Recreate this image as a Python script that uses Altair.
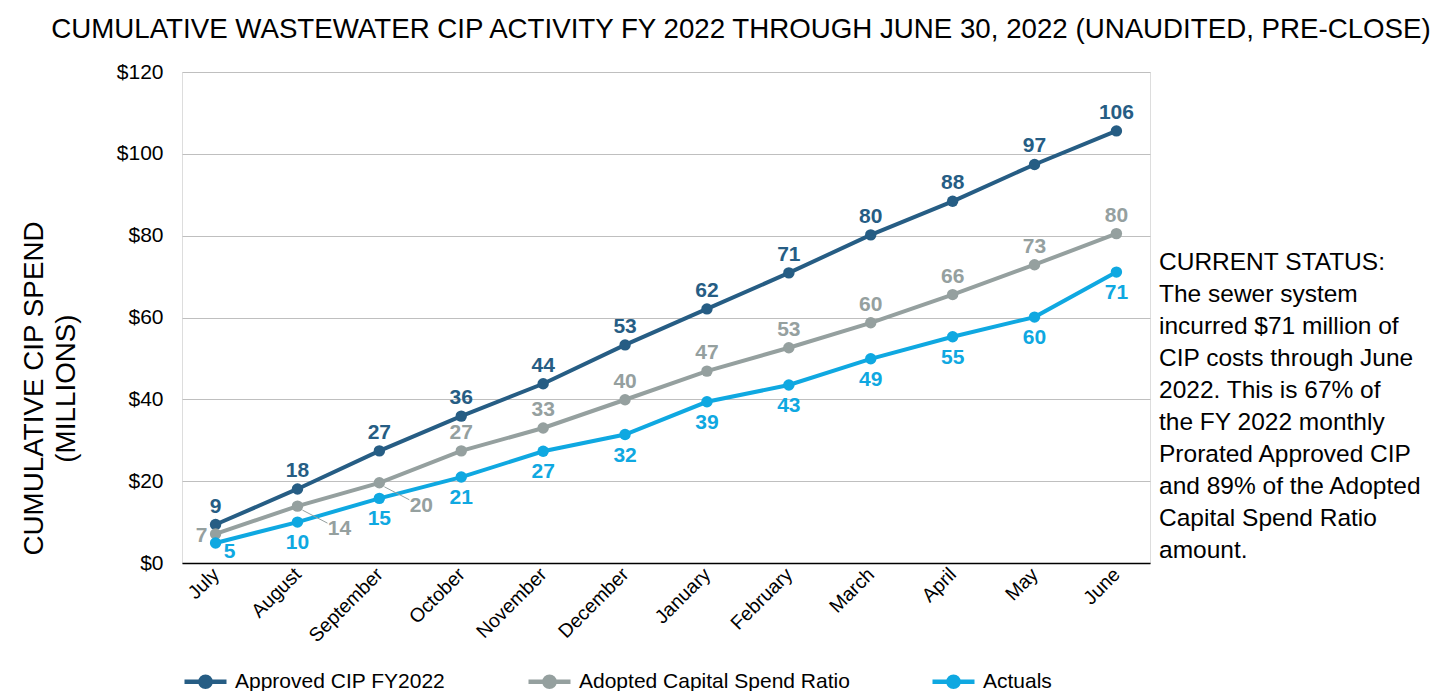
import altair as alt
import pandas as pd

months = ["July", "August", "September", "October", "November", "December",
          "January", "February", "March", "April", "May", "June"]
approved = [9.4, 18.1, 27.4, 35.9, 43.8, 53.3, 62.1, 70.9, 80.2, 88.4, 97.4, 105.6]
adopted = [7.1, 13.9, 19.6, 27.4, 33.0, 39.9, 46.9, 52.6, 58.7, 65.6, 72.9, 80.5]
actuals = [4.9, 10.0, 15.8, 21.0, 27.3, 31.4, 39.4, 43.5, 49.9, 55.3, 60.1, 71.1]
approved_lbl = [9, 18, 27, 36, 44, 53, 62, 71, 80, 88, 97, 106]
adopted_lbl = [7, 14, 20, 27, 33, 40, 47, 53, 60, 66, 73, 80]
actuals_lbl = [5, 10, 15, 21, 27, 32, 39, 43, 49, 55, 60, 71]

series_names = ["Approved CIP FY2022", "Adopted Capital Spend Ratio", "Actuals"]
colors = ["#265d84", "#95a09f", "#0fa8e1"]

title_text = "CUMULATIVE WASTEWATER CIP ACTIVITY FY 2022 THROUGH JUNE 30, 2022 (UNAUDITED, PRE-CLOSE)"
status_lines = ["CURRENT STATUS:", "The sewer system", "incurred $71 million of",
                "CIP costs through June", "2022. This is 67% of", "the FY 2022 monthly",
                "Prorated Approved CIP", "and 89% of the Adopted", "Capital Spend Ratio",
                "amount."]

rows = []
for name, vals, lbls in zip(series_names, [approved, adopted, actuals],
                            [approved_lbl, adopted_lbl, actuals_lbl]):
    for m, v, l in zip(months, vals, lbls):
        rows.append({"month": m, "series": name, "value": v, "label": str(l)})
df = pd.DataFrame(rows)

FONT = "Liberation Sans"
W, H = 968, 491

x = alt.X("month:N", sort=months,
          scale=alt.Scale(type="point", padding=0.41),
          axis=alt.Axis(title=None, labelAngle=-45, labelAlign="right",
                        labelBaseline="middle", labelFontSize=19.5, labelColor="#000",
                        labelFont=FONT, ticks=False, domainColor="#000",
                        domainWidth=1.5, labelPadding=8, grid=False))
y = alt.Y("value:Q", scale=alt.Scale(domain=[0, 120]),
          axis=alt.Axis(title=["CUMULATIVE CIP SPEND", "(MILLIONS)"], titleFontSize=27.8,
                        titleFont=FONT, titleFontWeight="normal", titleColor="#000",
                        titlePadding=36, titleLineHeight=32, titleY=316, titleAlign="center",
                        values=[0, 20, 40, 60, 80, 100, 120], format="$.0f",
                        labelFontSize=21, labelFont=FONT, labelColor="#000",
                        labelPadding=19, ticks=False, domain=False,
                        gridColor="#bfbfbf", gridWidth=1.2))
color = alt.Color("series:N", sort=series_names,
                  scale=alt.Scale(domain=series_names, range=colors),
                  legend=alt.Legend(title=None, orient="bottom", direction="horizontal",
                                    labelFontSize=21, labelFont=FONT, labelColor="#000",
                                    labelLimit=500,
                                    symbolType="M-1,0L1,0M-0.24,0a0.24,0.24 0 1,0 0.48,0a0.24,0.24 0 1,0 -0.48,0Z",
                                    symbolSize=1764, symbolStrokeWidth=4.5,
                                    columnPadding=73, offset=12, padding=0,
                                    labelOffset=6))

base = alt.Chart(df)
lines = base.mark_line(strokeWidth=4).encode(x=x, y=y, color=color)
points = base.mark_point(filled=True, size=130, opacity=1).encode(x=x, y=y, color=color)

lbl_common = dict(fontSize=21, font=FONT, fontWeight="bold")
tcolor = alt.Color("series:N", scale=alt.Scale(domain=series_names, range=colors), legend=None)

top_labels = base.mark_text(dy=-18, **lbl_common).encode(
    x=x, y=y, text="label:N", color=tcolor
).transform_filter(
    (alt.datum.series == series_names[0]) |
    ((alt.datum.series == series_names[1]) &
     (alt.datum.month != "July") & (alt.datum.month != "August") & (alt.datum.month != "September"))
)
bottom_labels = base.mark_text(dy=21, **lbl_common).encode(
    x=x, y=y, text="label:N", color=tcolor
).transform_filter(
    (alt.datum.series == series_names[2]) & (alt.datum.month != "July")
)
july_actual = base.mark_text(dx=14, dy=9, **lbl_common).encode(
    x=x, y=y, text="label:N", color=tcolor
).transform_filter((alt.datum.series == series_names[2]) & (alt.datum.month == "July"))
july_adopted = base.mark_text(dx=-14, dy=2, **lbl_common).encode(
    x=x, y=y, text="label:N", color=tcolor
).transform_filter((alt.datum.series == series_names[1]) & (alt.datum.month == "July"))
leader_filter = (alt.datum.series == series_names[1]) & (
    (alt.datum.month == "August") | (alt.datum.month == "September"))
leader_labels = base.mark_text(dx=42, dy=23, **lbl_common).encode(
    x=x, y=y, text="label:N", color=tcolor
).transform_filter(leader_filter)
leaders = base.mark_rule(color="#95a09f", strokeWidth=1, xOffset=5, yOffset=4,
                         x2Offset=30, y2Offset=17).encode(
    x=x, x2="month:N", y=y, y2="value:Q"
).transform_filter(leader_filter)

status = alt.Chart(pd.DataFrame({"t": [status_lines]})).mark_text(
    align="left", baseline="alphabetic", fontSize=24.5, font=FONT, color="#000", lineHeight=32
).encode(x=alt.value(977), y=alt.value(198), text="t")

chart = alt.layer(lines, leaders, points, top_labels, bottom_labels, july_actual,
                  july_adopted, leader_labels, status).properties(
    width=W, height=H,
    title=alt.Title(title_text, fontSize=27.7, font=FONT, fontWeight="normal",
                    color="#000", anchor="middle", dx=75, offset=17),
    autosize=alt.AutoSizeParams(type="none"),
    padding={"left": 174, "top": 64, "right": 283, "bottom": 129}
).configure_view(stroke=None).configure(background="white")

chart.save("out.html", embed_options={"renderer": "svg", "actions": False})
